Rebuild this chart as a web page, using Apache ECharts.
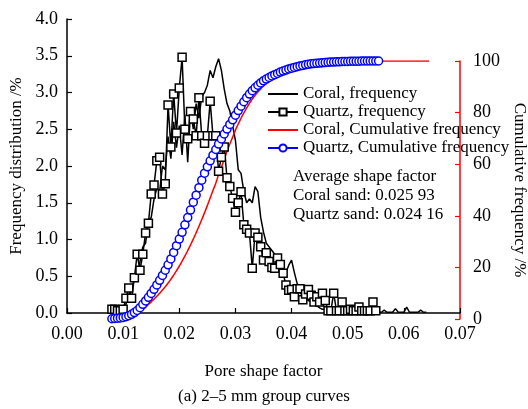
<!DOCTYPE html>
<html>
<head>
<meta charset="utf-8">
<script src="https://cdn.jsdelivr.net/npm/echarts@6/dist/echarts.min.js"></script>
<style>
  html, body { margin: 0; padding: 0; background: #fff; }
  #chart { width: 528px; height: 409px; }
</style>
</head>
<body>
<div id="chart"></div>
<script>
// pore shape factor (x positions, step 0.0005)
const shapeFactor = [
  0.0080, 0.0085, 0.0090, 0.0095, 0.0100, 0.0105, 0.0110, 0.0115, 0.0120, 0.0125,
  0.0130, 0.0135, 0.0140, 0.0145, 0.0150, 0.0155, 0.0160, 0.0165, 0.0170, 0.0175,
  0.0180, 0.0185, 0.0190, 0.0195, 0.0200, 0.0205, 0.0210, 0.0215, 0.0220, 0.0225,
  0.0230, 0.0235, 0.0240, 0.0245, 0.0250, 0.0255, 0.0260, 0.0265, 0.0270, 0.0275,
  0.0280, 0.0285, 0.0290, 0.0295, 0.0300, 0.0305, 0.0310, 0.0315, 0.0320, 0.0325,
  0.0330, 0.0335, 0.0340, 0.0345, 0.0350, 0.0355, 0.0360, 0.0365, 0.0370, 0.0375,
  0.0380, 0.0385, 0.0390, 0.0395, 0.0400, 0.0405, 0.0410, 0.0415, 0.0420, 0.0425,
  0.0430, 0.0435, 0.0440, 0.0445, 0.0450, 0.0455, 0.0460, 0.0465, 0.0470, 0.0475,
  0.0480, 0.0485, 0.0490, 0.0495, 0.0500, 0.0505, 0.0510, 0.0515, 0.0520, 0.0525,
  0.0530, 0.0535, 0.0540, 0.0545, 0.0550, 0.0555, 0.0560, 0.0565, 0.0570, 0.0575,
  0.0580, 0.0585, 0.0590, 0.0595, 0.0600, 0.0605, 0.0610, 0.0615, 0.0620, 0.0625,
  0.0630, 0.0635, 0.0640, 0.0645
];

// frequency distribution, %
const coralFreq = [
  null, null, 0.00, 0.02, 0.05, 0.12, 0.25, 0.30, 0.48, 0.45,
  0.70, 0.90, 0.95, 1.25, 1.30, 1.55, 1.70, 1.65, 2.00, 1.95,
  2.40, 2.10, 2.60, 2.25, 2.55, 2.15, 2.70, 2.05, 2.75, 2.50,
  2.85, 2.65, 2.95, 3.00, 3.10, 3.30, 3.20, 3.35, 3.46, 3.30,
  3.05, 2.85, 2.75, 2.55, 2.35, 1.95, 1.90, 1.65, 1.50, 1.55,
  1.50, 1.72, 1.65, 1.30, 1.10, 0.95, 0.90, 0.85, 0.80, 0.60,
  0.55, 0.50, 0.55, 0.65, 0.72, 0.55, 0.40, 0.35, 0.25, 0.20,
  0.17, 0.15, 0.12, 0.10, 0.07, 0.05, 0.05, 0.03, 0.02, 0.02,
  0.01, 0.02, 0.01, 0.01, 0.02, 0.01, 0.01, 0.02, 0.01, 0.01,
  0.01, 0.01, 0.02, 0.01, 0.01, 0.01, 0.01, 0.04, 0.01, 0.01,
  0.01, 0.06, 0.01, 0.01, 0.01, 0.08, 0.01, 0.01, 0.01, 0.01,
  0.04, 0.01, 0.01, null
];
const quartzFreq = [
  0.05, 0.05, 0.03, 0.03, 0.05, 0.20, 0.34, 0.20, 0.48, 0.80,
  0.58, 0.80, 1.09, 1.22, 1.62, 1.74, 2.07, 2.12, 1.62, 1.76,
  2.83, 2.26, 2.98, 2.45, 3.06, 3.48, 2.50, 2.37, 2.74, 2.64,
  2.41, 2.93, 2.41, 2.31, 2.41, 2.88, 2.41, 2.41, 1.93, 2.12,
  2.26, 1.84, 1.72, 1.56, 1.37, 1.50, 1.65, 1.20, 1.14, 1.09,
  0.61, 1.09, 1.03, 0.90, 0.72, 0.82, 0.70, 0.62, 0.61, 0.75,
  0.66, 0.54, 0.38, 0.31, 0.32, 0.22, 0.33, 0.33, 0.18, 0.26,
  0.32, 0.24, 0.15, 0.22, 0.15, 0.27, 0.17, 0.03, 0.03, 0.27,
  0.03, 0.03, 0.15, 0.03, 0.03, 0.05, 0.03, 0.03, 0.08, 0.03,
  0.03, 0.03, 0.03, 0.15, 0.03, null, null, null, null, null,
  null, null, null, null, null, null, null, null, null, null,
  null, null, null, null
];

// cumulative frequency, %
const coralCum = [
  null, null, 0.0, 0.1, 0.2, 0.4, 0.7, 1.1, 1.6, 2.2,
  2.9, 3.7, 4.6, 5.6, 6.6, 7.7, 8.8, 10.0, 11.2, 12.5,
  13.9, 15.4, 17.0, 18.7, 20.5, 22.4, 24.4, 26.5, 28.7, 31.0,
  33.4, 35.9, 38.5, 41.2, 44.0, 46.9, 49.8, 52.6, 56.0, 58.8,
  62.0, 65.0, 67.8, 70.5, 73.2, 75.6, 77.8, 79.9, 81.8, 83.6,
  85.2, 86.7, 88.0, 89.2, 90.3, 91.3, 92.2, 93.0, 93.8, 94.5,
  95.1, 95.7, 96.2, 96.7, 97.1, 97.5, 97.8, 98.1, 98.4, 98.6,
  98.8, 99.0, 99.1, 99.2, 99.3, 99.4, 99.5, 99.6, 99.6, 99.7,
  99.7, 99.8, 99.8, 99.8, 99.8, 99.9, 99.9, 99.9, 99.9, 99.9,
  99.9, 99.9, 99.9, 99.9, 100, 100, 100, 100, 100, 100,
  100, 100, 100, 100, 100, 100, 100, 100, 100, 100,
  100, 100, 100, 100
];
const quartzCum = [
  0.1, 0.2, 0.3, 0.4, 0.6, 0.9, 1.3, 1.8, 2.5, 3.3,
  4.4, 5.7, 7.0, 8.4, 9.9, 11.5, 13.2, 15.0, 16.9, 18.9,
  21.0, 23.3, 25.8, 28.4, 31.0, 33.6, 36.5, 39.3, 42.2, 45.3,
  48.0, 50.9, 53.8, 56.5, 59.0, 61.3, 63.5, 65.7, 67.8, 69.8,
  71.7, 73.6, 75.4, 77.2, 79.0, 80.8, 82.5, 84.2, 85.8, 87.2,
  88.5, 89.6, 90.6, 91.5, 92.3, 93.0, 93.6, 94.2, 94.7, 95.2,
  95.7, 96.1, 96.5, 96.9, 97.2, 97.5, 97.8, 98.1, 98.3, 98.5,
  98.7, 98.9, 99.0, 99.1, 99.2, 99.3, 99.4, 99.5, 99.6, 99.6,
  99.7, 99.7, 99.8, 99.8, 99.8, 99.9, 99.9, 99.9, 99.9, 100,
  100, 100, 100, 100, 100, 100, null, null, null, null,
  null, null, null, null, null, null, null, null, null, null,
  null, null, null, null
];

const seriesNames = [
  'Coral, frequency',
  'Quartz, frequency',
  'Coral, Cumulative frequency',
  'Quartz, Cumulative frequency'
];
const noteLines = ['Average shape factor', 'Coral sand: 0.025 93', 'Quartz sand: 0.024 16'];
const caption = '(a) 2\u20135 mm group curves';

const FONT = '"Liberation Serif", "Times New Roman", serif';
const pairs = vals => shapeFactor.map((x, i) => [x, vals[i]]);

const chart = echarts.init(document.getElementById('chart'));

const option = {
  backgroundColor: '#fff',
  animation: false,
  textStyle: { fontFamily: FONT, color: '#000' },
  grid: [
    { left: 67, right: 68, top: 19, bottom: 96, outerBoundsMode: 'none' },
    { left: 67, right: 68, top: 61, bottom: 90, outerBoundsMode: 'none' }
  ],
  legend: {
    orient: 'vertical',
    left: 267,
    top: 85,
    padding: 0,
    itemWidth: 30,
    itemHeight: 9,
    itemGap: 0,
    data: [
      { name: seriesNames[0], itemStyle: { opacity: 0 } },
      { name: seriesNames[1] },
      { name: seriesNames[2], itemStyle: { opacity: 0 } },
      { name: seriesNames[3] }
    ],
    textStyle: { fontFamily: FONT, fontSize: 17, color: '#000', lineHeight: 18 }
  },
  xAxis: [
    {
      gridIndex: 0,
      type: 'value',
      min: 0, max: 0.07, interval: 0.01,
      name: 'Pore shape factor',
      nameLocation: 'middle',
      nameGap: 50,
      nameTextStyle: { fontFamily: FONT, fontSize: 17, color: '#000' },
      axisLine: { lineStyle: { color: '#000', width: 1.5 } },
      axisTick: { inside: true, length: 5, lineStyle: { color: '#000', width: 1.2 } },
      axisLabel: { fontFamily: FONT, fontSize: 18, color: '#000', margin: 12, formatter: v => v.toFixed(2) },
      splitLine: { show: false }
    },
    {
      gridIndex: 1,
      type: 'value',
      min: 0, max: 0.07,
      show: false
    }
  ],
  yAxis: [
    {
      gridIndex: 0,
      type: 'value',
      min: 0, max: 4, interval: 0.5,
      name: 'Frequency distribution /%',
      nameLocation: 'middle',
      nameGap: 41,
      nameTextStyle: { fontFamily: FONT, fontSize: 17, color: '#000' },
      axisLine: { show: true, onZero: false, lineStyle: { color: '#000', width: 1.5 } },
      axisTick: { show: true, inside: true, length: 5, lineStyle: { color: '#000', width: 1.2 } },
      axisLabel: { fontFamily: FONT, fontSize: 18, color: '#000', margin: 9, formatter: v => v.toFixed(1) },
      splitLine: { show: false }
    },
    {
      gridIndex: 1,
      type: 'value',
      position: 'right',
      min: 0, max: 100, interval: 20,
      name: 'Cumulative frequency /%',
      nameLocation: 'middle',
      nameRotate: -90,
      nameGap: 47,
      nameTextStyle: { fontFamily: FONT, fontSize: 17, color: '#000' },
      axisLine: { show: true, onZero: false, lineStyle: { color: '#f00', width: 1.5 } },
      axisTick: { show: true, inside: true, length: 5, lineStyle: { color: '#f00', width: 1.2 } },
      axisLabel: { fontFamily: FONT, fontSize: 18, color: '#000', margin: 13 },
      splitLine: { show: false }
    }
  ],
  series: [
    {
      name: seriesNames[0],
      type: 'line',
      xAxisIndex: 0, yAxisIndex: 0,
      data: pairs(coralFreq),
      symbol: 'none',
      lineStyle: { color: '#000', width: 1.5 },
      itemStyle: { color: '#000' }
    },
    {
      name: seriesNames[1],
      type: 'line',
      xAxisIndex: 0, yAxisIndex: 0,
      data: pairs(quartzFreq),
      symbol: 'rect',
      symbolSize: 8,
      showAllSymbol: true,
      lineStyle: { color: '#000', width: 1.5 },
      itemStyle: { color: '#fff', borderColor: '#000', borderWidth: 1.5 }
    },
    {
      name: seriesNames[2],
      type: 'line',
      xAxisIndex: 1, yAxisIndex: 1,
      data: pairs(coralCum),
      symbol: 'none',
      smooth: true,
      lineStyle: { color: '#f00', width: 1.5 },
      itemStyle: { color: '#f00' }
    },
    {
      name: seriesNames[3],
      type: 'line',
      xAxisIndex: 1, yAxisIndex: 1,
      data: pairs(quartzCum),
      symbol: 'circle',
      symbolSize: 8,
      showAllSymbol: true,
      lineStyle: { color: '#00f', width: 1.5 },
      itemStyle: { color: '#fff', borderColor: '#00f', borderWidth: 1.5 }
    }
  ],
  graphic: [
    {
      type: 'text',
      left: 293,
      top: 167,
      style: {
        text: noteLines.join('\n'),
        font: '17px ' + FONT,
        lineHeight: 19,
        fill: '#000'
      }
    },
    {
      type: 'text',
      x: 264,
      y: 397,
      style: {
        text: caption,
        font: '17px ' + FONT,
        fill: '#000',
        align: 'center',
        verticalAlign: 'middle'
      }
    }
  ]
};

chart.setOption(option);
window.addEventListener('resize', () => chart.resize());
</script>
</body>
</html>
